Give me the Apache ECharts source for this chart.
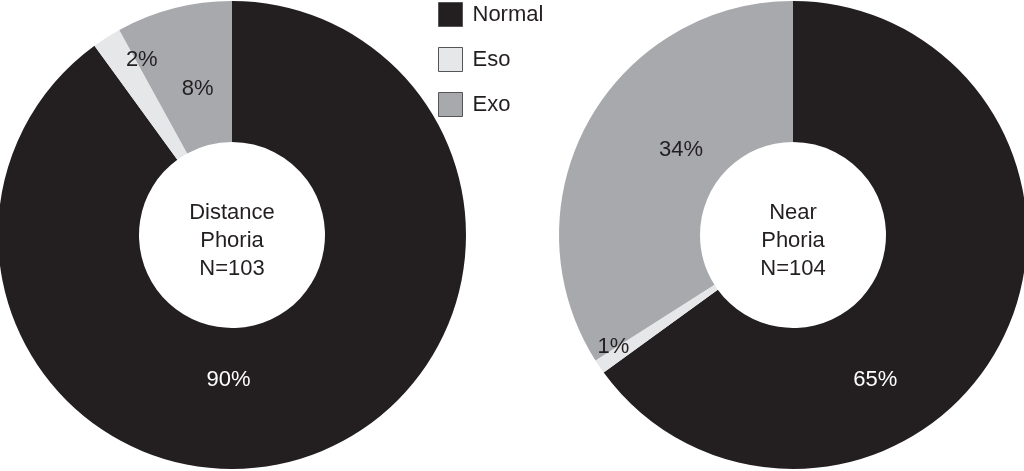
<!DOCTYPE html>
<html>
<head>
<meta charset="utf-8">
<script src="https://cdn.jsdelivr.net/npm/echarts@6/dist/echarts.min.js"></script>
<style>html,body{margin:0;padding:0;background:#fff;}#c{width:1024px;height:471px;}</style>
</head>
<body>
<div id="c"></div>
<script>
var categories = ['Normal', 'Eso', 'Exo'];
var distanceValues = [90, 2, 8];
var nearValues = [65, 1, 34];
var distanceTitle = 'Distance\nPhoria\nN=103';
var nearTitle = 'Near\nPhoria\nN=104';

var colors = ['#231f20', '#e6e7e8', '#a7a9ac'];
var labelColors = ['#ffffff', '#231f20', '#231f20'];
var font = 'Liberation Sans, Arial, Helvetica, sans-serif';

function buildData(values, offsets) {
  return categories.map(function (c, i) {
    return {
      name: c,
      value: values[i],
      itemStyle: { color: colors[i] },
      label: { color: labelColors[i], offset: offsets[i] }
    };
  });
}

var chart = echarts.init(document.getElementById('c'));
var common = {
  type: 'pie',
  radius: [93, 234],
  startAngle: 90,
  clockwise: true,
  avoidLabelOverlap: false,
  silent: true,
  label: {
    show: true,
    position: 'inside',
    formatter: '{c}%',
    fontFamily: font,
    fontSize: 22
  },
  labelLine: { show: false },
  itemStyle: { borderWidth: 0 }
};

chart.setOption({
  animation: false,
  color: colors,
  legend: {
    data: categories,
    orient: 'vertical',
    left: 438,
    top: 2,
    padding: 0,
    itemWidth: 24,
    itemHeight: 24,
    itemGap: 20,
    icon: 'rect',
    itemStyle: { borderColor: '#555', borderWidth: 1 },
    textStyle: { fontFamily: font, fontSize: 22, color: '#231f20', padding: [0, 0, 0, 5] }
  },
  series: [
    Object.assign({}, common, {
      name: 'Distance',
      center: [232, 235],
      data: buildData(distanceValues, [[-55, -13], [-1, -34], [7, 15]])
    }),
    Object.assign({}, common, {
      name: 'Near',
      center: [793, 235],
      data: buildData(nearValues, [[-66, 69], [-42, 18], [34, -5]])
    })
  ],
  graphic: [
    {
      type: 'text',
      style: { text: distanceTitle, fontFamily: font, fontSize: 22, lineHeight: 28, fill: '#231f20', align: 'center', verticalAlign: 'middle' },
      x: 232, y: 241
    },
    {
      type: 'text',
      style: { text: nearTitle, fontFamily: font, fontSize: 22, lineHeight: 28, fill: '#231f20', align: 'center', verticalAlign: 'middle' },
      x: 793, y: 241
    }
  ]
});
</script>
</body>
</html>
